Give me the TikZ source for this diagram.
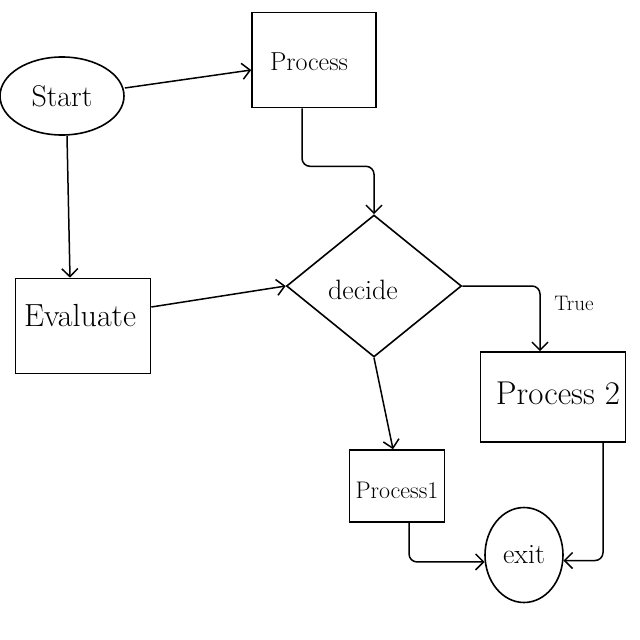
\documentclass[tikz,border=0pt]{standalone}
\usetikzlibrary{shapes.geometric,arrows.meta}
\newcommand{\fsz}[1]{\fontsize{#1}{#1}\selectfont}
\begin{document}
\begin{tikzpicture}[x=1pt,y=-1pt,
  every node/.style={inner sep=0pt, font=\fsz{22}},
  box/.style={draw, line width=1.6pt, rectangle},
  oval/.style={draw, line width=1.6pt, ellipse},
  dec/.style={draw, line width=1.6pt, diamond},
  arr/.style={line width=1.5pt, -{Straight Barb[length=8pt,width=16pt,line width=1.5pt]}, rounded corners=8pt},
  lbl/.style={font=\fsz{21}}]
\useasboundingbox (0,0) rectangle (640,640);
\node[oval, minimum width=124pt, minimum height=78pt, font=\fsz{30}] (start) at (62,96) {Start};
\node[box, minimum width=124pt, minimum height=95pt] (process) at (314,60) {};
\node[font=\fsz{26}] at (309,62) (ptext) {Process};
\node[box, minimum width=135pt, minimum height=95pt] (evaluate) at (83,326) {};
\node[font=\fsz{32}] at (80,316) (etext) {Evaluate};
\node[dec, minimum width=175pt, minimum height=142pt] (decide) at (374,286) {};
\node[font=\fsz{28}] at (363,290) (dtext) {decide};
\node[box, minimum width=145pt, minimum height=90pt] (process2) at (553,397) {};
\node[font=\fsz{33}] at (558,393) (p2text) {Process 2};
\node[box, minimum width=95pt, minimum height=72pt] (process1) at (397,486) {};
\node[font=\fsz{24}] at (397,490) (p1text) {Process1};
\node[oval, minimum width=78pt, minimum height=95pt, font=\fsz{28}] (exit) at (524,555) {exit};
\node[lbl] (true) at (574,303) {True};
\draw[arr] ([yshift=8pt]start.east) -- ([yshift=-10pt]process.west);
\draw[arr] ([xshift=5pt]start.south) -- ([xshift=-13pt]evaluate.north);
\draw[arr] ([xshift=-12pt]process.south) -- ++(0,58) -| (decide.north);
\draw[arr] ([yshift=19pt]evaluate.east) -- (decide.west);
\draw[arr] (decide.east) -| ([xshift=-13pt]process2.north);
\draw[arr] (decide.south) -- ([xshift=-4pt]process1.north);
\draw[arr] ([xshift=12pt]process1.south) |- (exit.190);
\draw[arr] ([xshift=50pt]process2.south) |- (exit.352);
\end{tikzpicture}
\end{document}
